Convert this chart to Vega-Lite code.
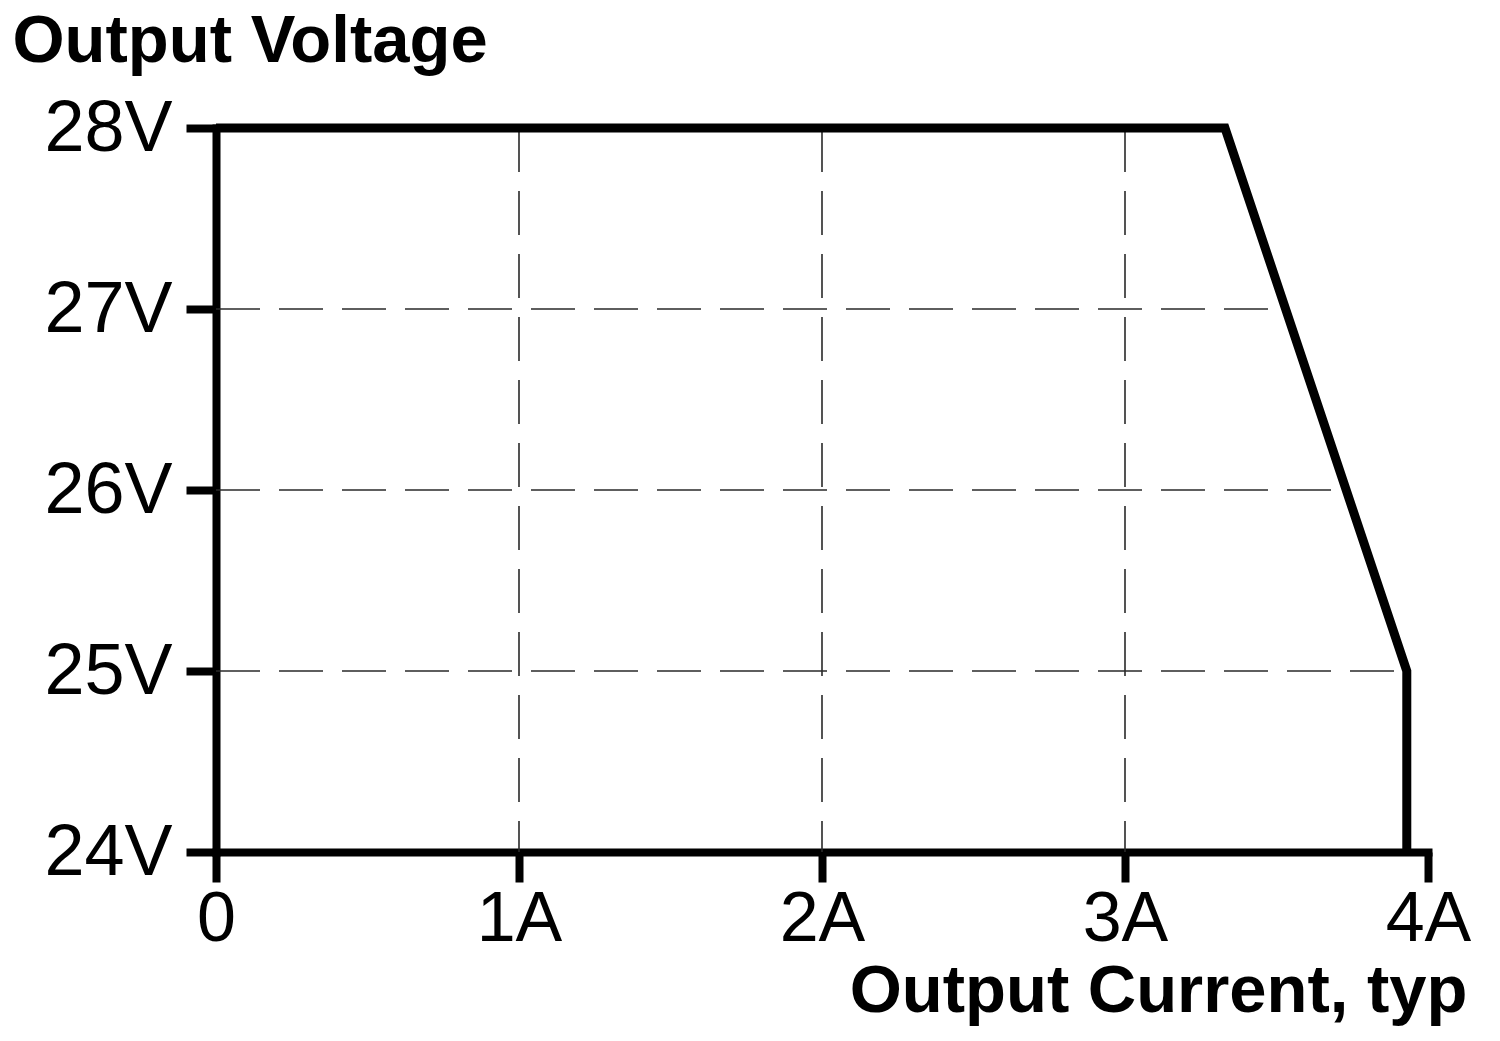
{
  "$schema": "https://vega.github.io/schema/vega-lite/v6.json",
  "width": 1212,
  "height": 724,
  "autosize": {"type": "none"},
  "padding": {"left": 216, "top": 128, "right": 72, "bottom": 189},
  "background": "white",
  "config": {
    "view": {"stroke": null},
    "axis": {
      "labelFont": "Liberation Sans",
      "titleFont": "Liberation Sans",
      "labelColor": "black",
      "titleColor": "black",
      "domainColor": "black",
      "tickColor": "black",
      "domainWidth": 8,
      "tickWidth": 8,
      "tickSize": 30,
      "domainCap": "square",
      "labelFontSize": 72,
      "titleFontSize": 67,
      "titleFontWeight": "bold",
      "labelOverlap": false,
      "labelFlush": false,
      "labelBound": false,
      "grid": false,
      "zindex": 1
    }
  },
  "encoding": {
    "x": {
      "field": "x",
      "type": "quantitative",
      "scale": {"domain": [0, 4], "nice": false},
      "axis": {
        "values": [0, 1, 2, 3, 4],
        "labelExpr": "datum.value == 0 ? '0' : datum.value + 'A'",
        "labelFontSize": 70,
        "labelPadding": 3,
        "title": "Output Current, typ",
        "titleAlign": "right",
        "titleBaseline": "alphabetic",
        "titleX": 1251,
        "titleY": 159
      }
    },
    "y": {
      "field": "y",
      "type": "quantitative",
      "scale": {"domain": [24, 28], "nice": false, "zero": false},
      "axis": {
        "values": [24, 25, 26, 27, 28],
        "labelExpr": "datum.value + 'V'",
        "labelPadding": 14,
        "title": "Output Voltage",
        "titleAngle": 0,
        "titleAlign": "left",
        "titleBaseline": "alphabetic",
        "titleX": -204,
        "titleY": -67
      }
    }
  },
  "layer": [
    {
      "data": {
        "values": [
          {"x": 1, "x2": 1, "y": 28, "y2": 24},
          {"x": 2, "x2": 2, "y": 28, "y2": 24},
          {"x": 3, "x2": 3, "y": 28, "y2": 24},
          {"x": 0, "x2": 3.53, "y": 27, "y2": 27},
          {"x": 0, "x2": 3.73, "y": 26, "y2": 26},
          {"x": 0, "x2": 3.93, "y": 25, "y2": 25}
        ]
      },
      "mark": {"type": "rule", "color": "#2a2a2a", "strokeWidth": 1.6, "strokeDash": [44, 19]},
      "encoding": {
        "x2": {"field": "x2"},
        "y2": {"field": "y2"}
      }
    },
    {
      "data": {
        "values": [
          {"i": 1, "x": 0, "y": 28},
          {"i": 2, "x": 3.33, "y": 28},
          {"i": 3, "x": 3.93, "y": 25},
          {"i": 4, "x": 3.93, "y": 24}
        ]
      },
      "mark": {"type": "line", "color": "black", "strokeWidth": 9, "strokeJoin": "miter"},
      "encoding": {
        "order": {"field": "i", "type": "quantitative"}
      }
    }
  ]
}
